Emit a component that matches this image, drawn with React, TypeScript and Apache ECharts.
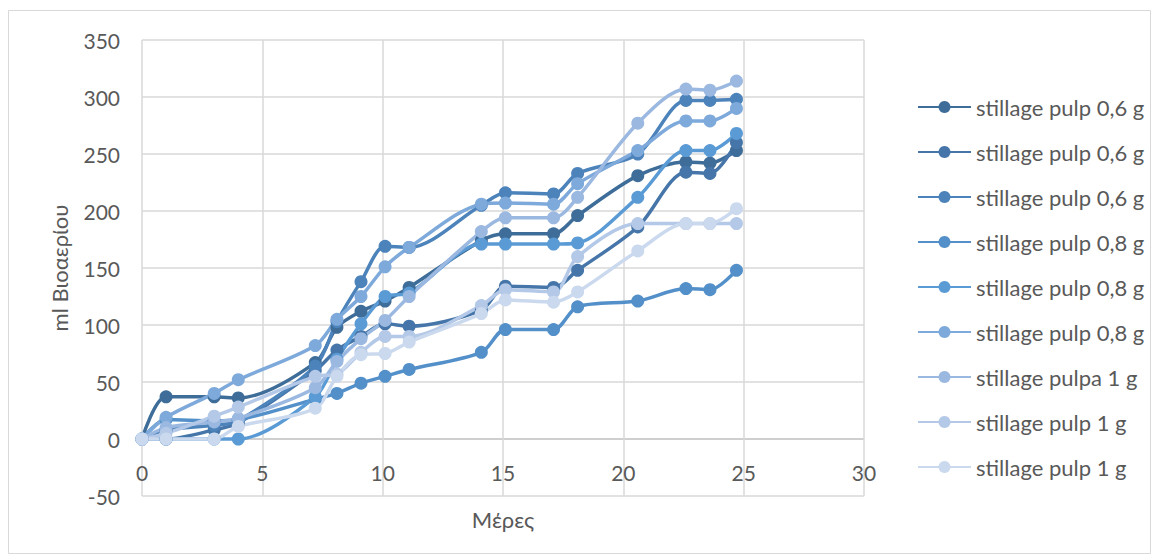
import React, { useEffect, useRef } from "react";
import * as echarts from "echarts";

// Days of measurement (shared by every series)
const days = [0, 1, 3, 4, 7.2, 8.1, 9.1, 10.1, 11.1, 14.1, 15.1, 17.1, 18.1, 20.6, 22.6, 23.6, 24.7];

// Cumulative biogas (ml) per run
const pulp06a = [0, 37, 37, 36, 67, 98, 112, 121, 133, 174, 180, 180, 196, 231, 243, 242, 253];
const pulp06b = [0, 0, 8, 14, 60, 78, 90, 101, 99, 113, 134, 133, 148, 186, 234, 233, 260];
const pulp06c = [0, 8, 12, 16, 64, 103, 138, 169, 168, 205, 216, 215, 233, 250, 297, 297, 298];
const pulp08a = [0, 17, 16, 17, 35, 40, 49, 55, 61, 76, 96, 96, 116, 121, 132, 131, 148];
const pulp08b = [0, 0, 0, 0, 37, 70, 101, 125, 128, 171, 171, 171, 172, 212, 253, 253, 268];
const pulp08c = [0, 19, 40, 52, 82, 105, 125, 151, 168, 206, 207, 206, 224, 253, 279, 279, 290];
const pulp1a = [0, 10, 15, 18, 45, 68, 88, 104, 125, 182, 194, 194, 212, 277, 307, 306, 314];
const pulp1b = [0, 5, 20, 28, 55, 57, 76, 90, 90, 117, 131, 129, 160, 189, 189, 189, 189];
const pulp1c = [0, 0, 0, 11, 27, 55, 74, 75, 85, 110, 122, 120, 129, 165, 189, 189, 202];

const seriesLabels = [
  "stillage pulp 0,6 g",
  "stillage pulp 0,6 g",
  "stillage pulp 0,6 g",
  "stillage pulp 0,8 g",
  "stillage pulp 0,8 g",
  "stillage pulp 0,8 g",
  "stillage pulpa 1 g",
  "stillage pulp 1 g",
  "stillage pulp 1 g",
];
const seriesValues = [pulp06a, pulp06b, pulp06c, pulp08a, pulp08b, pulp08c, pulp1a, pulp1b, pulp1c];
const seriesColors = [
  "#3e6d99",
  "#4676a9",
  "#4c83bb",
  "#5390c9",
  "#5b9bd5",
  "#7ea9db",
  "#9bb8e1",
  "#b4c8e7",
  "#cbd9ee",
];

// Y range and step; the zero gridline is drawn darker as the category axis line
const Y_MIN = -50;
const Y_MAX = 350;
const Y_STEP = 50;

const FONT = "Lato, 'Open Sans', sans-serif";
const TEXT = "#595959";
const GRID_LINE = "#d9d9d9";
const ZERO_LINE = "#bfbfbf";

export default function App() {
  const ref = useRef<HTMLDivElement>(null);

  useEffect(() => {
    if (!ref.current) return;
    const chart = echarts.init(ref.current, undefined, { renderer: "svg" });

    // Several runs share a display label, so each series gets a unique key
    // and the legend maps the key back to its label.
    const keys = seriesLabels.map((_, i) => "run" + i);
    const labelOf: Record<string, string> = {};
    keys.forEach((k, i) => (labelOf[k] = seriesLabels[i]));

    const series = seriesValues.map((vals, i) => ({
      name: keys[i],
      type: "line",
      smooth: 0.3,
      symbol: "circle",
      symbolSize: 13,
      color: seriesColors[i],
      lineStyle: { width: 3.5, color: seriesColors[i] },
      itemStyle: { color: seriesColors[i] },
      data: days.map((d, j) => [d, vals[j]]),
    }));

    // One colour per horizontal gridline, darker where the value is zero
    const hLineColors: string[] = [];
    for (let v = Y_MIN; v <= Y_MAX; v += Y_STEP) hLineColors.push(v === 0 ? ZERO_LINE : GRID_LINE);

    // Distance (px) between the plot bottom and the zero line
    const plotTop = 40;
    const plotBottom = 496;
    const zeroOffset = ((0 - Y_MIN) / (Y_MAX - Y_MIN)) * (plotBottom - plotTop);

    chart.setOption({
      animation: false,
      backgroundColor: "#ffffff",
      textStyle: { fontFamily: FONT },
      graphic: [
        {
          type: "rect",
          shape: { x: 8.5, y: 10.5, width: 1142, height: 543 },
          style: { fill: "none", stroke: GRID_LINE, lineWidth: 1 },
          silent: true,
        },
      ],
      grid: {
        left: 142,
        right: 297,
        top: plotTop,
        bottom: 559 - plotBottom,
        containLabel: false,
        outerBoundsMode: "none",
      },
      xAxis: {
        type: "value",
        min: 0,
        max: 30,
        interval: 5,
        name: "Μέρες",
        nameLocation: "middle",
        nameGap: 69 - zeroOffset,
        nameTextStyle: { fontSize: 22, color: TEXT, fontFamily: FONT },
        axisLine: { show: false },
        axisTick: { show: false },
        // labels sit just under the zero line
        axisLabel: { margin: 23 - zeroOffset, fontSize: 21, color: TEXT, fontFamily: FONT },
        splitLine: { show: true, lineStyle: { color: GRID_LINE, width: 1.5 } },
      },
      yAxis: {
        type: "value",
        min: Y_MIN,
        max: Y_MAX,
        interval: Y_STEP,
        name: "ml Βιοαερίου",
        nameLocation: "middle",
        nameGap: 72,
        nameTextStyle: { fontSize: 22, color: TEXT, fontFamily: FONT },
        axisLine: { show: false },
        axisTick: { show: false },
        axisLabel: { margin: 22, fontSize: 21, color: TEXT, fontFamily: FONT },
        splitLine: { show: true, lineStyle: { color: hLineColors, width: 1.5 } },
      },
      legend: {
        orient: "vertical",
        left: 917,
        top: 96,
        padding: 0,
        itemWidth: 53,
        itemHeight: 15,
        itemGap: 23,
        textStyle: { fontSize: 22, color: TEXT, fontFamily: FONT, lineHeight: 22 },
        formatter: (name: string) => labelOf[name] ?? name,
        data: keys,
      },
      series,
    });

    return () => chart.dispose();
  }, []);

  return (
    <div
      ref={ref}
      style={{ position: "absolute", left: 0, top: 0, width: 1161, height: 559, background: "#fff" }}
    />
  );
}
